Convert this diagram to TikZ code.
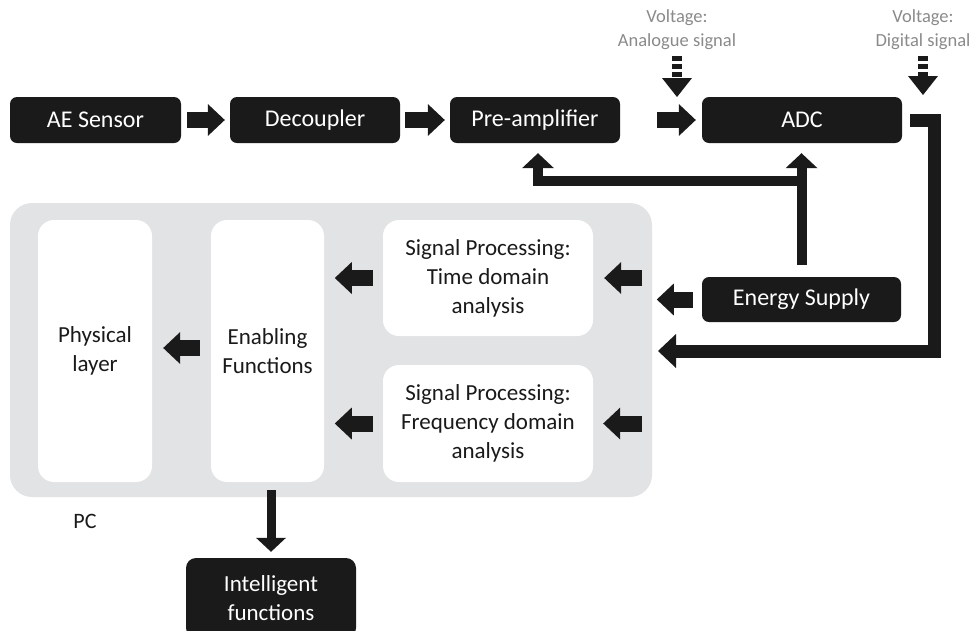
\documentclass[tikz,border=0pt]{standalone}
\usepackage{fontspec}
\setmainfont{Carlito}
\usetikzlibrary{arrows.meta,calc}
\definecolor{panelgray}{HTML}{E2E3E5}
\definecolor{boxblack}{HTML}{1A1A1A}
\definecolor{labelgray}{HTML}{8A8A8A}
\begin{document}
\begin{tikzpicture}[x=1pt,y=-1pt,
  blk/.style={fill=boxblack, rounded corners=7pt, text=white, inner sep=0pt, align=center,
    font=\fontsize{24}{29}\selectfont, minimum height=46pt},
  wbox/.style={fill=white, rounded corners=16pt, inner sep=0pt, align=center,
    font=\fontsize{23}{29}\selectfont, text=boxblack},
  panel/.style={fill=panelgray, rounded corners=22pt, inner sep=0pt},
  vlabel/.style={text=labelgray, align=center, inner sep=0pt, font=\fontsize{18.5}{24}\selectfont},
  barrow/.style={draw=boxblack, line width=16pt, -{Triangle[length=17pt,width=32pt,line width=0pt]}},
  marrow/.style={draw=boxblack, line width=10pt, line join=miter, -{Triangle[length=15pt,width=32pt,line width=0pt]}},
  larrow/.style={draw=boxblack, line width=13pt, line join=miter, -{Triangle[length=18pt,width=34pt,line width=0pt]}},
  darrow/.style={draw=boxblack, line width=10pt, dash pattern=on 5pt off 3pt, -{Triangle[length=19pt,width=30pt,line width=0pt]}},
  sarrow/.style={draw=boxblack, line width=9pt, -{Triangle[length=14pt,width=30pt,line width=0pt]}}
]
\useasboundingbox (0,0) rectangle (973,630);

% top row
\node[blk, minimum width=171pt] (ae)  at (95.5,120) {AE Sensor};
\node[blk, minimum width=170pt] (dec) at (315,120) {Decoupler};
\node[blk, minimum width=170pt] (pre) at (535,120) {Pre-amplifier};
\node[blk, minimum width=200pt] (adc) at (802,120) {ADC};
\node[blk, minimum width=199pt, minimum height=45pt] (es) at (801.5,299.5) {Energy Supply};

% voltage labels
\node[vlabel] (va) at (677,30) {Voltage:\\Analogue signal};
\node[vlabel] (vd) at (923,30) {Voltage:\\Digital signal};
\coordinate (vaT) at (677,97);
\coordinate (vdT) at (923,95);

% PC panel
\node[panel, minimum width=642pt, minimum height=294pt] (pc) at (331,350) {};
\node[font=\fontsize{22}{26}\selectfont, text=boxblack, inner sep=0pt] (pclabel) at (85,521) {PC};
\node[wbox, minimum width=114pt, minimum height=262pt] (phys) at (95,351) {Physical\\layer};
\node[wbox, minimum width=113pt, minimum height=262pt] (enab) at (267.5,351) {Enabling\\Functions};
\node[wbox, minimum width=210pt, minimum height=116pt] (time) at (488,278) {Signal Processing:\\Time domain\\analysis};
\node[wbox, minimum width=210pt, minimum height=117pt] (freq) at (488,423.5) {Signal Processing:\\Frequency domain\\analysis};

% intelligent functions
\node[blk, minimum width=170pt, minimum height=80pt, rounded corners=10pt,
  font=\fontsize{23}{29}\selectfont] (intel) at (271,598) {Intelligent\\functions};

% arrows top row
\draw[barrow] ($(ae.east)+(6,0)$) -- ($(dec.west)+(-5,0)$);
\draw[barrow] ($(dec.east)+(5,0)$) -- ($(pre.west)+(-5,0)$);
\draw[barrow] ($(pre.east)+(37,0)$) -- ($(adc.west)+(-6,0)$);

% dashed voltage arrows
\draw[darrow] (va) ++(0,26) -- (vaT);
\draw[darrow] (vd) ++(0,26) -- (vdT);

% ADC output to PC
\coordinate (corner) at (934,351);
\coordinate (pcIn) at (658,351);
\draw[larrow] ($(adc.east)+(8,0)$) -| (corner) -- (pcIn);

% energy supply
\coordinate (jn) at (801.5,181);
\draw[marrow] ($(es.north)+(0,-12)$) -- ($(adc.south)+(-0.5,10)$);
\draw[marrow] (jn) -| ($(pre.south)+(3,10)$);
\draw[barrow] ($(es.west)+(-9,0)$) -- ++(-36,0);

% inside PC
\draw[barrow] ($(time.east)+(49,0)$) -- ($(time.east)+(11,0)$);
\draw[barrow] ($(freq.east)+(49,0)$) -- ($(freq.east)+(10,0)$);
\draw[barrow] ($(time.west)+(-10,0)$) -- ++(-38,0);
\draw[barrow] ($(freq.west)+(-10,0)$) -- ++(-38,0);
\draw[barrow] ($(enab.west)+(-11,-3)$) -- ($(phys.east)+(11,-3)$);
\draw[sarrow] ($(intel.north)+(0,-68)$) -- ($(intel.north)+(0,-6)$);
\end{tikzpicture}
\end{document}
